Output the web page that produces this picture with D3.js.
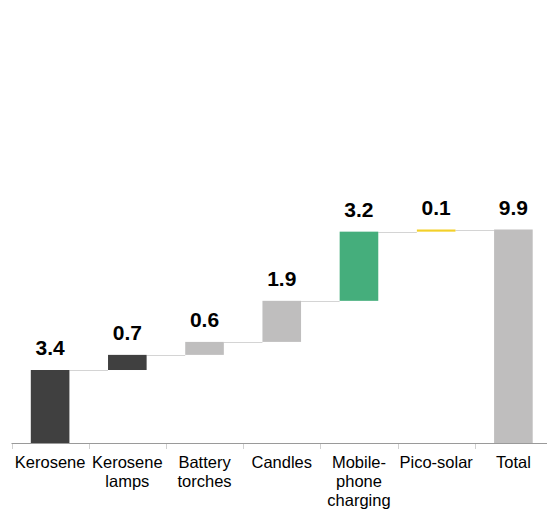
<!DOCTYPE html>
<html>
<head>
<meta charset="utf-8">
<script src="https://cdn.jsdelivr.net/npm/d3@7"></script>
<style>
  body { margin: 0; background: #fff; }
  svg { display: block; font-family: "Liberation Sans", Arial, sans-serif; }
</style>
</head>
<body>
<svg></svg>
<script>
// waterfall data
const categories = [["Kerosene"], ["Kerosene", "lamps"], ["Battery", "torches"], ["Candles"],
    ["Mobile-", "phone", "charging"], ["Pico-solar"], ["Total"]];
const values = [3.4, 0.7, 0.6, 1.9, 3.2, 0.1, 9.9];
const isTotal = [false, false, false, false, false, false, true];
const colors = ["#404040", "#404040", "#bfbebe", "#bfbebe", "#45ae7c", "#f3d02a", "#bfbebe"];

const width = 547, height = 513;
const svg = d3.select("svg").attr("width", width).attr("height", height);

// cumulative start/end of every step
let run = 0;
const steps = values.map((v, i) => {
    if (isTotal[i]) return { start: 0, end: v, i };
    const s = { start: run, end: run + v, i };
    run += v;
    return s;
});

const x = d3.scaleBand()
    .domain(d3.range(categories.length))
    .range([11.5, 552])
    .paddingInner(0.5)
    .paddingOuter(0.25);

const y = d3.scaleLinear().domain([0, 9.9]).range([443.5, 229.5]);

// connectors
const conn = svg.append("g").attr("stroke", "#d4d4d4").attr("stroke-width", 1);
steps.slice(0, -1).forEach((s, i) => {
    conn.append("line")
        .attr("x1", x(i) + x.bandwidth())
        .attr("x2", x(i + 1))
        .attr("y1", Math.round(y(s.end)) + 0.5)
        .attr("y2", Math.round(y(s.end)) + 0.5);
});

// bars
svg.append("g").selectAll("rect")
    .data(steps)
    .join("rect")
    .attr("x", d => x(d.i))
    .attr("width", x.bandwidth())
    .attr("y", d => y(Math.max(d.start, d.end)))
    .attr("height", d => Math.abs(y(d.start) - y(d.end)))
    .attr("fill", d => colors[d.i]);

// value labels
svg.append("g").selectAll("text")
    .data(steps)
    .join("text")
    .attr("x", d => x(d.i) + x.bandwidth() / 2)
    .attr("y", d => y(d.end) - 15)
    .attr("text-anchor", "middle")
    .attr("font-size", 21)
    .attr("font-weight", "bold")
    .attr("fill", "#000")
    .text(d => values[d.i].toFixed(1));

// axis: line + ticks between categories
const step = x.step();
const r0 = x.range()[0];
const axis = svg.append("g");
axis.append("line")
    .attr("x1", r0).attr("x2", x.range()[1])
    .attr("y1", 443.5).attr("y2", 443.5)
    .attr("stroke", "#9a9a9a");
axis.selectAll(".tick")
    .data(d3.range(categories.length))
    .join("line")
    .attr("class", "tick")
    .attr("x1", i => Math.round(r0 + i * step) + 0.5)
    .attr("x2", i => Math.round(r0 + i * step) + 0.5)
    .attr("y1", 444).attr("y2", 449)
    .attr("stroke", "#d0d0d0");

// category labels
const lbl = axis.selectAll(".lbl")
    .data(categories)
    .join("text")
    .attr("class", "lbl")
    .attr("text-anchor", "middle")
    .attr("font-size", 16.5)
    .attr("fill", "#000")
    .attr("transform", (d, i) => `translate(${x(i) + x.bandwidth() / 2},468)`);
lbl.selectAll("tspan")
    .data(d => d)
    .join("tspan")
    .attr("x", 0)
    .attr("y", (d, j) => j * 19)
    .text(d => d);
</script>
</body>
</html>
